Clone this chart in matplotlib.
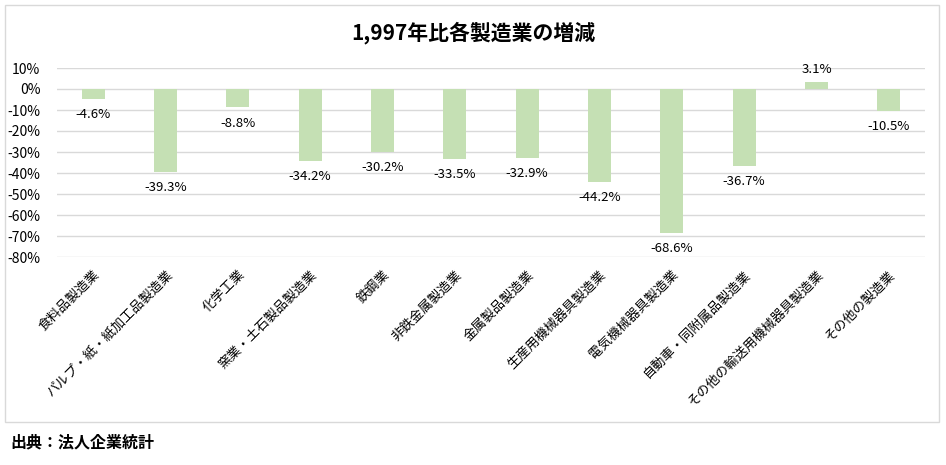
import matplotlib
matplotlib.use("Agg")
import matplotlib.pyplot as plt
from matplotlib.patches import Rectangle
from matplotlib.ticker import FuncFormatter

plt.rcParams['font.family'] = ['Noto Sans CJK JP', 'DejaVu Sans']

categories = ["食料品製造業", "パルプ・紙・紙加工品製造業", "化学工業", "窯業・土石製品製造業",
              "鉄鋼業", "非鉄金属製造業", "金属製品製造業", "生産用機械器具製造業",
              "電気機械器具製造業", "自動車・同附属品製造業", "その他の輸送用機械器具製造業", "その他の製造業"]
values = [-4.6, -39.3, -8.8, -34.2, -30.2, -33.5, -32.9, -44.2, -68.6, -36.7, 3.1, -10.5]
title = "1,997年比各製造業の増減"
source = "出典：法人企業統計"

W, H = 946, 465
fig = plt.figure(figsize=(W/100, H/100), dpi=100)
fig.patch.set_facecolor("white")

# chart border
fig.patches.append(Rectangle((5/W, 1-422/H), (939-5)/W, (422-5)/H, transform=fig.transFigure,
                             fill=False, edgecolor="#D9D9D9", linewidth=1))

ax = fig.add_axes([57/W, 1-257/H, (925-57)/W, (257-68)/H])
x = list(range(len(categories)))
ax.bar(x, [v/100 for v in values], width=0.32, color="#C5E0B4", zorder=3)
ax.set_ylim(-0.8, 0.1)
ax.set_xlim(-0.5, len(categories)-0.5)
ax.set_yticks([i/10 for i in range(-8, 2)])
ax.yaxis.set_major_formatter(FuncFormatter(lambda v, p: f"{v*100:.0f}%"))
ax.grid(axis="y", color="#D9D9D9", linewidth=1, zorder=0)
for s in ax.spines.values():
    s.set_visible(False)
ax.tick_params(axis="both", length=0, labelsize=10)
ax.tick_params(axis="y", pad=12)
ax.set_xticks(x)
ax.set_xticklabels(categories, rotation=45, ha="right", rotation_mode="anchor", fontsize=9.5)
ax.tick_params(axis="x", pad=8)

for xi, v in zip(x, values):
    if v < 0:
        ax.annotate(f"{v:.1f}%", (xi, v/100), xytext=(0, -6.5), textcoords="offset points",
                    ha="center", va="top", fontsize=9.5)
    else:
        ax.annotate(f"{v:.1f}%", (xi, v/100), xytext=(0, 5), textcoords="offset points",
                    ha="center", va="bottom", fontsize=9.5)

fig.text(473/W, 1-33/H, title, ha="center", va="center", fontsize=15, fontweight="bold")
fig.text(10/W, 1-442/H, source, ha="left", va="center", fontsize=11.5, fontweight="bold")

fig.savefig("out.png", dpi=100)
